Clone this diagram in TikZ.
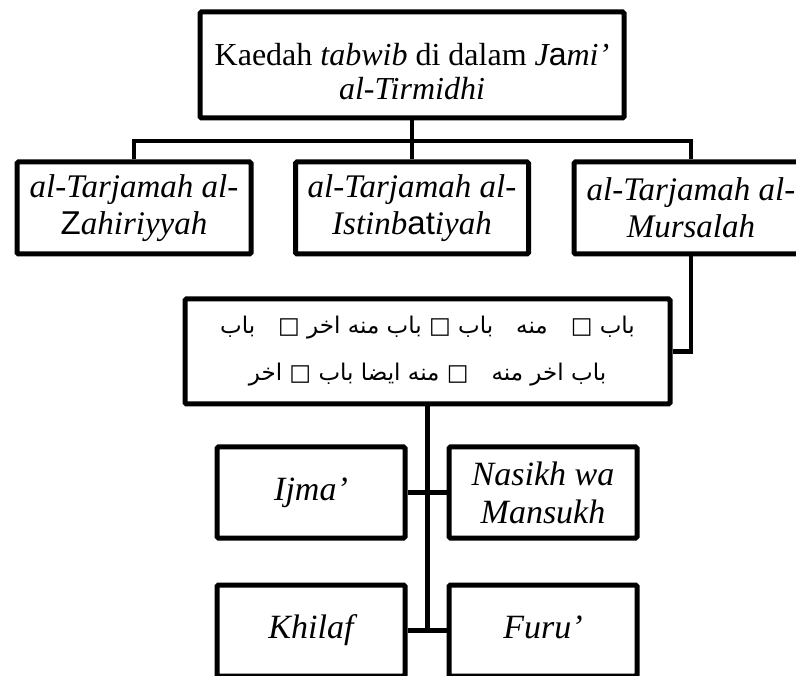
\documentclass[tikz,border=0pt]{standalone}
\usepackage{fontspec}
\setmainfont{Liberation Serif}
\newfontfamily\altsans{Liberation Sans}
\newfontfamily\arabicfont[Script=Arabic]{DejaVu Sans}
\TeXXeTstate=1
\begin{document}
\begin{tikzpicture}[x=1pt,y=-1pt,
  box/.style={draw, line width=5pt, rounded corners=1.5pt, rectangle, align=center, inner sep=0pt},
  midtxt/.style={font={\itshape\fontsize{33}{37}\selectfont}},
  lowtxt/.style={font={\itshape\fontsize{34}{38}\selectfont}},
  conn/.style={line width=4.3pt}]
\useasboundingbox (0,0) rectangle (796,676);
\node[box, minimum width=424pt, minimum height=106pt] (top) at (412,65) {};
\node[align=center, font={\fontsize{32}{34}\selectfont}] (toptext) at (412,72)
  {Kaedah \textit{tabwib} di dalam \textit{J{\altsans\upshape a}mi’}\\\textit{al-Tirmidhi}};
\node[box, minimum width=234pt, minimum height=92pt, midtxt] (left) at (134,208)
  {al-Tarjamah al-\\{\altsans\upshape Z}ahiriyyah};
\node[box, minimum width=233pt, minimum height=92pt, midtxt] (mid) at (412,208)
  {al-Tarjamah al-\\Istinb{\altsans\upshape at}iyah};
\node[box, minimum width=234pt, minimum height=92pt, midtxt] (right) at (691,208)
  {al-Tarjamah al-\\Mursalah};
\node[box, minimum width=485pt, minimum height=105pt, font={\arabicfont\fontsize{23}{47}\selectfont}] (arabic) at (427.5,351.5)
  {\beginR باب □\quad منه\quad باب □ باب منه اخر □\quad باب\endR\\\beginR باب اخر منه\quad □ منه ايضا باب □ اخر\endR};
\node[box, minimum width=188pt, minimum height=91pt, lowtxt] (ijma) at (311,492.5) {\vphantom{Ijf}Ijma’};
\node[box, minimum width=188pt, minimum height=91pt, lowtxt] (nasikh) at (543,492.5) {Nasikh wa\\Mansukh};
\node[box, minimum width=188pt, minimum height=91pt, lowtxt] (khilaf) at (311,630.5) {\vphantom{Ijf}Khilaf};
\node[box, minimum width=188pt, minimum height=91pt, lowtxt] (furu) at (543,630.5) {\vphantom{Ijf}Furu’};
\coordinate (bus) at (412,141);
\draw[conn] (top.south) -- (mid.north);
\draw[conn] (left.north) |- (bus) -| (right.north);
\draw[conn] (right.south) |- (arabic.east);
\draw[conn] (arabic.south) -- (arabic.south |- khilaf.east);
\draw[conn] (ijma.east) -- (nasikh.west);
\draw[conn] (khilaf.east) -- (furu.west);
\end{tikzpicture}
\end{document}
